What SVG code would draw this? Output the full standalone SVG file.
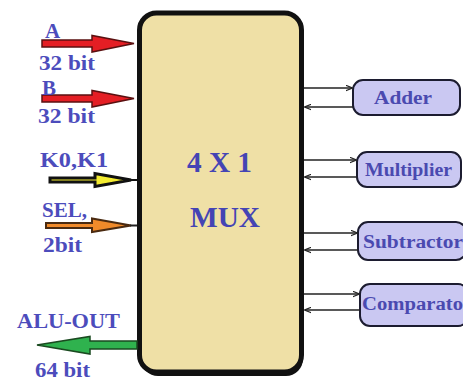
<svg xmlns="http://www.w3.org/2000/svg" width="463" height="383" viewBox="0 0 463 383">
<defs>
<style>
.lbl{font-family:"Liberation Serif","Times New Roman",serif;font-weight:bold;fill:#4c4cbc;font-size:21px}
.big{font-size:29px;fill:#4444b4}
.mod{fill:#cac8f2;stroke:#1c1c30;stroke-width:2}
.modt{font-family:"Liberation Serif","Times New Roman",serif;font-weight:bold;fill:#4a4ab0;font-size:18px}
.thin{stroke:#222;stroke-width:1.6;fill:none}
</style>
<marker id="ah" viewBox="0 0 10 10" refX="9" refY="5" markerWidth="7" markerHeight="7" orient="auto" markerUnits="userSpaceOnUse">
<path d="M0,1 L10,5 L0,9" fill="none" stroke="#222" stroke-width="1.6"/>
</marker>
</defs>
<rect width="463" height="383" fill="#ffffff"/>
<g id="mux">
<rect x="141" y="16" width="162" height="360" rx="17" fill="#111"/>
<rect x="139.5" y="13" width="162" height="359" rx="17" fill="#efe0a6" stroke="#111" stroke-width="5"/>
<text class="lbl big" x="187" y="172" textLength="65" lengthAdjust="spacingAndGlyphs">4 X 1</text>
<text class="lbl big" x="190" y="227" textLength="70" lengthAdjust="spacingAndGlyphs">MUX</text>
</g>
<g id="adder">
<rect class="mod" x="353" y="80" width="107" height="35" rx="10"/>
<text class="modt" x="374" y="104" textLength="58" lengthAdjust="spacingAndGlyphs">Adder</text>
</g>
<g id="multiplier">
<rect class="mod" x="357" y="152" width="104" height="35" rx="10"/>
<text class="modt" x="365" y="176" textLength="87" lengthAdjust="spacingAndGlyphs">Multiplier</text>
</g>
<g id="subtractor">
<rect class="mod" x="358" y="222" width="108" height="38" rx="10"/>
<text class="modt" x="363" y="248" textLength="100" lengthAdjust="spacingAndGlyphs">Subtractor</text>
</g>
<g id="comparator">
<rect class="mod" x="360" y="284" width="108" height="42" rx="10"/>
<text class="modt" x="362" y="310" textLength="101" lengthAdjust="spacingAndGlyphs">Comparato</text>
</g>
<g id="connectors">
<path d="M42,40 L92,40 L92,35.5 L134,43.5 L92,52 L92,47 L42,47 Z" fill="#e41e24" stroke="#5a1010" stroke-width="1.5"/>
<path d="M42,95 L92,95 L92,90.5 L134,98.5 L92,107 L92,102 L42,102 Z" fill="#e41e24" stroke="#5a1010" stroke-width="1.5"/>
<path d="M50,178 L95,178 L95,173.5 L131,180 L95,186.5 L95,182 L50,182 Z" fill="#f4ec30" stroke="#111" stroke-width="3"/>
<line x1="130" y1="180" x2="137" y2="180" stroke="#111" stroke-width="2"/>
<path d="M46,223 L92,223 L92,218.5 L131,225.5 L92,232 L92,228 L46,228 Z" fill="#f08a2a" stroke="#4a2a10" stroke-width="2"/>
<line x1="130" y1="225.5" x2="137" y2="225.5" stroke="#222" stroke-width="2"/>
<path d="M137,341 L90,341 L90,336.5 L37,345 L90,354 L90,349 L137,349 Z" fill="#2fb24e" stroke="#1a4a20" stroke-width="1.5"/>
<line class="thin" x1="304" y1="88" x2="352" y2="88" marker-end="url(#ah)"/>
<line class="thin" x1="353" y1="107" x2="305" y2="107" marker-end="url(#ah)"/>
<line class="thin" x1="304" y1="160" x2="356" y2="160" marker-end="url(#ah)"/>
<line class="thin" x1="357" y1="177" x2="305" y2="177" marker-end="url(#ah)"/>
<line class="thin" x1="304" y1="233" x2="357" y2="233" marker-end="url(#ah)"/>
<line class="thin" x1="358" y1="250" x2="305" y2="250" marker-end="url(#ah)"/>
<line class="thin" x1="304" y1="294" x2="359" y2="294" marker-end="url(#ah)"/>
<line class="thin" x1="360" y1="310" x2="305" y2="310" marker-end="url(#ah)"/>
</g>
<g id="labels">
<text class="lbl" x="45" y="38">A</text>
<text class="lbl" x="39" y="70" textLength="56" lengthAdjust="spacingAndGlyphs">32 bit</text>
<text class="lbl" x="42" y="95">B</text>
<text class="lbl" x="38" y="123" textLength="57" lengthAdjust="spacingAndGlyphs">32 bit</text>
<text class="lbl" x="40" y="167" textLength="68" lengthAdjust="spacingAndGlyphs">K0,K1</text>
<text class="lbl" x="42" y="217" textLength="45" lengthAdjust="spacingAndGlyphs">SEL,</text>
<text class="lbl" x="43" y="252" textLength="39" lengthAdjust="spacingAndGlyphs">2bit</text>
<text class="lbl" x="17" y="328" textLength="103" lengthAdjust="spacingAndGlyphs">ALU-OUT</text>
<text class="lbl" x="35" y="377" textLength="55" lengthAdjust="spacingAndGlyphs">64 bit</text>
</g>
</svg>
